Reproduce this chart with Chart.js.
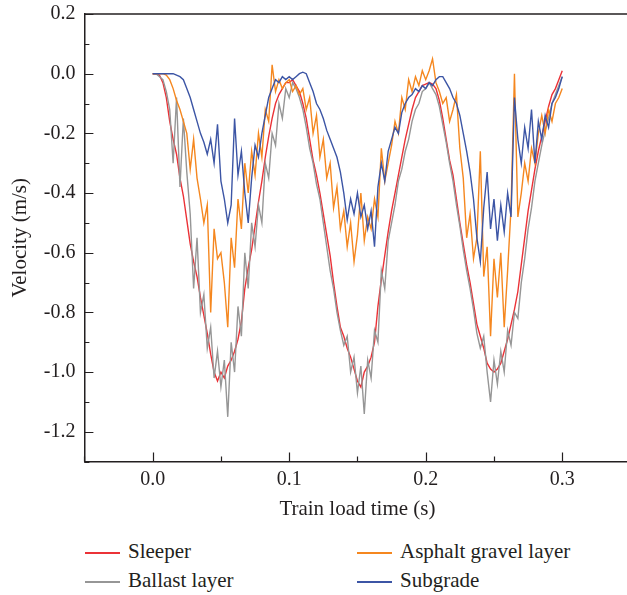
<!DOCTYPE html>
<html>
<head>
<meta charset="utf-8">
<script src="https://cdn.jsdelivr.net/npm/chart.js@4.4.0/dist/chart.umd.min.js"></script>
<style>
  html, body { margin: 0; padding: 0; background: #fff; overflow: hidden; }
  #wrap { position: relative; width: 627px; height: 595px; overflow: hidden; }
  #chart { position: absolute; left: 0; top: 0; }
  .legend-item {
    position: absolute; height: 24px; line-height: 24px; white-space: nowrap;
    font: 21px "Liberation Serif", "Times New Roman", serif; color: #231f20;
  }
  .legend-item .swatch {
    display: inline-block; width: 35px; height: 2px;
    vertical-align: middle; margin-right: 8px;
  }
</style>
</head>
<body>
<div id="wrap">
  <canvas id="chart" width="640" height="530"></canvas>
  <div id="legend"></div>
</div>
<script>
// sample times (s)
const times = [
  0, 0.0025, 0.005, 0.0075, 0.01, 0.0125, 0.015, 0.0175, 0.02, 0.0225,
  0.025, 0.0275, 0.03, 0.0325, 0.035, 0.0375, 0.04, 0.0425, 0.045, 0.0475,
  0.05, 0.0525, 0.055, 0.0575, 0.06, 0.0625, 0.065, 0.0675, 0.07, 0.0725,
  0.075, 0.0775, 0.08, 0.0825, 0.085, 0.0875, 0.09, 0.0925, 0.095, 0.0975,
  0.1, 0.1025, 0.105, 0.1075, 0.11, 0.1125, 0.115, 0.1175, 0.12, 0.1225,
  0.125, 0.1275, 0.13, 0.1325, 0.135, 0.1375, 0.14, 0.1425, 0.145, 0.1475,
  0.15, 0.1525, 0.155, 0.1575, 0.16, 0.1625, 0.165, 0.1675, 0.17, 0.1725,
  0.175, 0.1775, 0.18, 0.1825, 0.185, 0.1875, 0.19, 0.1925, 0.195, 0.1975,
  0.2, 0.2025, 0.205, 0.2075, 0.21, 0.2125, 0.215, 0.2175, 0.22, 0.2225,
  0.225, 0.2275, 0.23, 0.2325, 0.235, 0.2375, 0.24, 0.2425, 0.245, 0.2475,
  0.25, 0.2525, 0.255, 0.2575, 0.26, 0.2625, 0.265, 0.2675, 0.27, 0.2725,
  0.275, 0.2775, 0.28, 0.2825, 0.285, 0.2875, 0.29, 0.2925, 0.295, 0.2975,
  0.3
];

// velocity (m/s)
const sleeper = [
  0, 0, -0.005, -0.03, -0.08, -0.16, -0.22, -0.27, -0.35, -0.41,
  -0.49, -0.57, -0.63, -0.68, -0.75, -0.81, -0.87, -0.94, -1.0, -1.03,
  -1.0, -1.02, -0.98, -0.96, -0.93, -0.89, -0.83, -0.72, -0.65, -0.59,
  -0.51, -0.43, -0.36, -0.28, -0.21, -0.15, -0.10, -0.07, -0.05, -0.03,
  -0.03, -0.02, -0.04, -0.06, -0.10, -0.15, -0.22, -0.29, -0.34, -0.40,
  -0.47, -0.54, -0.61, -0.70, -0.78, -0.85, -0.88, -0.92, -0.95, -0.99,
  -1.03, -1.05, -1.0, -0.98, -0.95, -0.90, -0.78, -0.69, -0.61, -0.53,
  -0.46, -0.40, -0.34, -0.28, -0.22, -0.17, -0.12, -0.08, -0.06, -0.04,
  -0.035, -0.03, -0.035, -0.05, -0.09, -0.15, -0.22, -0.29, -0.34, -0.42,
  -0.50, -0.57, -0.64, -0.70, -0.77, -0.84, -0.88, -0.92, -0.97, -0.99,
  -1.0, -0.99, -0.97, -0.93, -0.89, -0.84, -0.79, -0.73, -0.64, -0.55,
  -0.46, -0.39, -0.32, -0.26, -0.21, -0.16, -0.11, -0.07, -0.05, -0.02,
  0.01
];

const ballast = [
  0, 0, -0.01, -0.02, -0.06, -0.12, -0.30, -0.08, -0.38, -0.15,
  -0.33, -0.47, -0.72, -0.55, -0.80, -0.74, -0.92, -0.85, -1.02, -0.93,
  -1.05, -0.96, -1.15, -0.90, -1.0, -0.78, -0.88, -0.60, -0.72, -0.50,
  -0.58, -0.44, -0.50, -0.30, -0.35, -0.20, -0.24, -0.10, -0.15, -0.05,
  -0.08, -0.03, -0.05, -0.08, -0.12, -0.18, -0.25, -0.30, -0.37, -0.42,
  -0.50, -0.58, -0.66, -0.72, -0.80, -0.86, -0.91, -0.88, -1.0, -0.95,
  -1.07, -0.98, -1.14, -0.96, -1.02, -0.86, -0.90, -0.66, -0.72, -0.56,
  -0.50, -0.44, -0.36, -0.32, -0.26, -0.22, -0.16, -0.12, -0.10, -0.06,
  -0.05, -0.03, -0.05, -0.07, -0.11, -0.17, -0.23, -0.30, -0.36, -0.44,
  -0.51, -0.59, -0.66, -0.72, -0.79, -0.87, -0.92, -0.88, -1.0, -1.10,
  -0.96, -1.04, -0.93, -1.0, -0.86, -0.91, -0.80, -0.82, -0.70, -0.62,
  -0.52, -0.45, -0.36, -0.30, -0.24, -0.19, -0.15, -0.10, -0.07, -0.04,
  -0.01
];

const asphalt = [
  0, 0, 0, 0, -0.005, -0.02, -0.05, -0.09, -0.12, -0.16,
  -0.20, -0.32, -0.22, -0.35, -0.42, -0.50, -0.44, -0.80, -0.52, -0.62,
  -0.60, -0.70, -0.85, -0.55, -0.65, -0.42, -0.52, -0.30, -0.40, -0.26,
  -0.34, -0.20, -0.28, -0.12, -0.16, 0.03, -0.06, -0.02, -0.05, -0.03,
  -0.02, -0.06, -0.04, -0.07, -0.05, -0.12, -0.08, -0.20, -0.14, -0.28,
  -0.22, -0.35, -0.30, -0.45, -0.38, -0.52, -0.46, -0.58, -0.50, -0.63,
  -0.54, -0.40, -0.56, -0.48, -0.52, -0.42, -0.48, -0.25, -0.36, -0.30,
  -0.24, -0.16, -0.20, -0.08, -0.12, -0.02, -0.06, -0.01, -0.04, 0.01,
  -0.02, 0.01, 0.05, -0.03, -0.06, -0.10, -0.08, -0.16, -0.12, -0.07,
  -0.25, -0.35, -0.55, -0.47, -0.62, -0.55, -0.26, -0.68, -0.58, -0.88,
  -0.62, -0.75, -0.60, -0.85, -0.66, -0.45, 0.0, -0.48, -0.40, -0.30,
  -0.36, -0.25, -0.30, -0.20, -0.14, -0.20, -0.12, -0.16, -0.10, -0.08,
  -0.05
];

const subgrade = [
  0, 0, 0, 0, 0, 0, 0, -0.005, -0.01, -0.02,
  -0.05, -0.08, -0.12, -0.16, -0.20, -0.23, -0.27, -0.22, -0.30, -0.17,
  -0.36, -0.42, -0.50, -0.44, -0.15, -0.34, -0.26, -0.40, -0.50, -0.35,
  -0.24, -0.28, -0.20, -0.14, -0.08, -0.05, -0.02, -0.03, -0.01, -0.02,
  -0.01, -0.02, -0.01, 0.0, 0.005, 0.0, -0.03, -0.06, -0.10, -0.12,
  -0.15, -0.19, -0.22, -0.25, -0.28, -0.33, -0.40, -0.49, -0.42, -0.47,
  -0.40, -0.48, -0.44, -0.52, -0.46, -0.58, -0.38, -0.30, -0.36, -0.26,
  -0.22, -0.18, -0.20, -0.13, -0.10, -0.08, -0.07, -0.05, -0.06, -0.04,
  -0.05, -0.03, -0.04, -0.02, -0.01, -0.01, -0.03, -0.05, -0.08, -0.10,
  -0.14, -0.20, -0.26, -0.33, -0.42, -0.55, -0.63, -0.45, -0.33, -0.52,
  -0.42, -0.56, -0.44, -0.53, -0.40, -0.48, -0.08, -0.22, -0.30, -0.18,
  -0.25, -0.12, -0.30, -0.16, -0.22, -0.14, -0.18, -0.10, -0.08, -0.05,
  -0.01
];

const seriesNames = ['Sleeper', 'Ballast layer', 'Asphalt gravel layer', 'Subgrade'];
const seriesValues = [sleeper, ballast, asphalt, subgrade];
const seriesColors = ['#eb3237', '#969696', '#f5871f', '#3c55a5'];

const xTitle = 'Train load time (s)';
const yTitle = 'Velocity (m/s)';

const FONT = '"Liberation Serif", "Times New Roman", serif';
const INK = '#231f20';

// inward ticks, top frame line and axis titles
const framePlugin = {
    id: 'frame',
    afterDraw(chart) {
        const ctx = chart.ctx;
        const a = chart.chartArea;
        const xs = chart.scales.x;
        const ys = chart.scales.y;
        ctx.save();
        ctx.strokeStyle = INK;
        ctx.lineWidth = 1.5;
        ctx.beginPath();
        ctx.moveTo(a.left, a.top);
        ctx.lineTo(a.right, a.top);
        ctx.stroke();

        ctx.lineWidth = 1.2;
        ctx.beginPath();
        xs.ticks.forEach(t => {
            const px = Math.round(xs.getPixelForValue(t.value)) + 0.5;
            const len = t.label ? 9 : 5;
            ctx.moveTo(px, a.bottom);
            ctx.lineTo(px, a.bottom - len);
        });
        ys.ticks.forEach(t => {
            const py = Math.round(ys.getPixelForValue(t.value)) + 0.5;
            const len = t.label ? 9 : 5;
            ctx.moveTo(a.left, py);
            ctx.lineTo(a.left + len, py);
        });
        ctx.stroke();

        ctx.fillStyle = INK;
        ctx.font = '21px ' + FONT;
        ctx.textAlign = 'center';
        ctx.textBaseline = 'alphabetic';
        ctx.fillText(xTitle, (a.left + a.right) / 2, a.bottom + 53.5);

        ctx.translate(a.left - 58, (a.top + a.bottom) / 2);
        ctx.rotate(-Math.PI / 2);
        ctx.fillText(yTitle, 0, 0);
        ctx.restore();
    }
};

const datasets = seriesNames.map((name, k) => ({
    label: name,
    data: times.map((t, i) => ({ x: t, y: seriesValues[k][i] })),
    borderColor: seriesColors[k],
    borderWidth: 1.4,
    pointRadius: 0,
    tension: 0,
    fill: false,
    order: seriesNames.length - k // later series drawn on top
}));

const tickFont = { family: FONT, size: 20 };

// fixed axis boxes so the plot area lands where the figure has it
function fixBox(size) {
    return s => {
        if (s.isHorizontal()) s.height = size; else s.width = size;
        s.paddingTop = 0;
        s.paddingBottom = 0;
        s.paddingLeft = 0;
        s.paddingRight = 0;
    };
}

new Chart(document.getElementById('chart'), {
    type: 'line',
    data: { datasets: datasets },
    options: {
        responsive: false,
        animation: false,
        events: [],
        layout: { padding: { top: 14, right: 9.5, left: 0, bottom: 0 } },
        plugins: {
            legend: { display: false },
            tooltip: { enabled: false }
        },
        scales: {
            x: {
                type: 'linear',
                min: -0.05,
                max: 0.35,
                grid: { display: false, drawTicks: false },
                border: { display: true, color: INK, width: 1.5 },
                ticks: {
                    stepSize: 0.05,
                    autoSkip: false,
                    maxRotation: 0,
                    padding: 6,
                    color: INK,
                    font: tickFont,
                    callback: v => (Math.round(v * 20) % 2 === 0 ? (Math.round(v * 10) / 10).toFixed(1) : '')
                },
                afterFit: fixBox(68.4)
            },
            y: {
                min: -1.3,
                max: 0.2,
                grid: { display: false, drawTicks: false },
                border: { display: true, color: INK, width: 1.5 },
                ticks: {
                    stepSize: 0.1,
                    autoSkip: false,
                    padding: 9,
                    color: INK,
                    font: tickFont,
                    callback: v => (Math.round(v * 10) % 2 === 0 ? (Math.round(v * 10) / 10).toFixed(1) : '')
                },
                afterFit: fixBox(84.4)
            }
        }
    },
    plugins: [framePlugin]
});

// legend, two columns below the plot
const legendSpots = [[85, 539], [85, 568], [357, 539], [357, 568]];
const legendBox = document.getElementById('legend');
seriesNames.forEach((name, k) => {
    const item = document.createElement('div');
    item.className = 'legend-item';
    item.style.left = legendSpots[k][0] + 'px';
    item.style.top = legendSpots[k][1] + 'px';
    const sw = document.createElement('span');
    sw.className = 'swatch';
    sw.style.backgroundColor = seriesColors[k];
    item.appendChild(sw);
    item.appendChild(document.createTextNode(name));
    legendBox.appendChild(item);
});
</script>
</body>
</html>
